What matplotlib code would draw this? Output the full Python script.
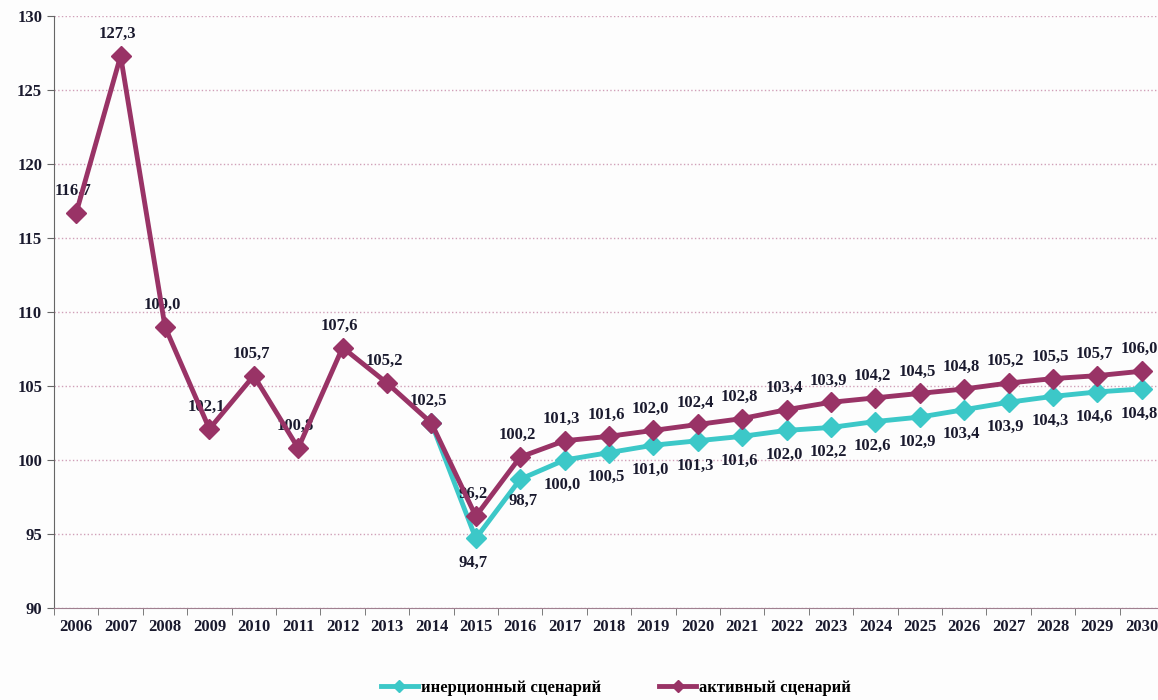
import matplotlib.pyplot as plt
import numpy as np

years = list(range(2006, 2031))
active = [116.7, 127.3, 109.0, 102.1, 105.7, 100.8, 107.6, 105.2, 102.5, 96.2,
          100.2, 101.3, 101.6, 102.0, 102.4, 102.8, 103.4, 103.9, 104.2, 104.5,
          104.8, 105.2, 105.5, 105.7, 106.0]
inert_years = list(range(2014, 2031))
inert = [102.5, 94.7, 98.7, 100.0, 100.5, 101.0, 101.3, 101.6, 102.0, 102.2,
         102.6, 102.9, 103.4, 103.9, 104.3, 104.6, 104.8]

teal = '#3cc8c8'
plum = '#993366'

plt.rcParams['font.family'] = ['Liberation Serif', 'DejaVu Serif']
plt.rcParams['font.weight'] = 'bold'

fig = plt.figure(figsize=(11.58, 7.0), dpi=100)
fig.patch.set_facecolor('#fdfdfd')
ax = fig.add_axes([54 / 1158, 1 - 608 / 700, (1164 - 54) / 1158, (608 - 16) / 700])
ax.set_facecolor('#fdfdfd')

x_all = np.arange(len(years))
x_in = np.array([years.index(y) for y in inert_years])

ax.plot(x_in, inert, color=teal, lw=3.5, marker='D', ms=10, label='инерционный сценарий', zorder=3)
ax.plot(x_all, active, color=plum, lw=3.5, marker='D', ms=10, label='активный сценарий', zorder=4)


def fmt(v):
    return ('%.1f' % v).replace('.', ',')


for i, v in enumerate(active):
    ax.annotate(fmt(v), (x_all[i], v), xytext=(-2, 10), textcoords='offset points',
                ha='center', va='bottom', fontsize=12, fontweight='bold', color='#1a1a2e')
for i, v in zip(x_in[1:], inert[1:]):
    dx, dy = (0, -12)
    if v == 98.7:
        dx, dy = (4, -10)
    ax.annotate(fmt(v), (i, v), xytext=(dx - 2, dy), textcoords='offset points',
                ha='center', va='top', fontsize=12, fontweight='bold', color='#1a1a2e')

ax.set_ylim(90, 130)
ax.set_yticks(range(90, 131, 5))
ax.set_xlim(-0.5, len(years) - 0.5)
ax.set_xticks(x_all)
ax.set_xticklabels([str(y) for y in years])
ax.set_xticks(np.arange(-0.5, len(years), 1), minor=True)
ax.tick_params(axis='x', which='major', length=0, pad=8, labelsize=12)
ax.tick_params(axis='x', which='minor', length=5, color='#666666')
ax.tick_params(axis='y', length=5, labelsize=12, color='#666666')
for lab in ax.get_xticklabels() + ax.get_yticklabels():
    lab.set_fontweight('bold')
    lab.set_color('#1a1a2e')

ax.grid(axis='y', ls=':', lw=1, color='#d0a0b8')
ax.set_axisbelow(True)
for s in ['top', 'right']:
    ax.spines[s].set_visible(False)
ax.spines['left'].set_color('#666666')
ax.spines['bottom'].set_color('#a08090')

fig.legend(loc='center', bbox_to_anchor=(616 / 1158, 1 - 688 / 700), ncol=2, frameon=False,
           handlelength=2.2, handletextpad=0.2, columnspacing=3.5, markerscale=0.6,
           prop={'weight': 'bold', 'size': 12})

fig.savefig('out.png', dpi=100, facecolor=fig.get_facecolor())
